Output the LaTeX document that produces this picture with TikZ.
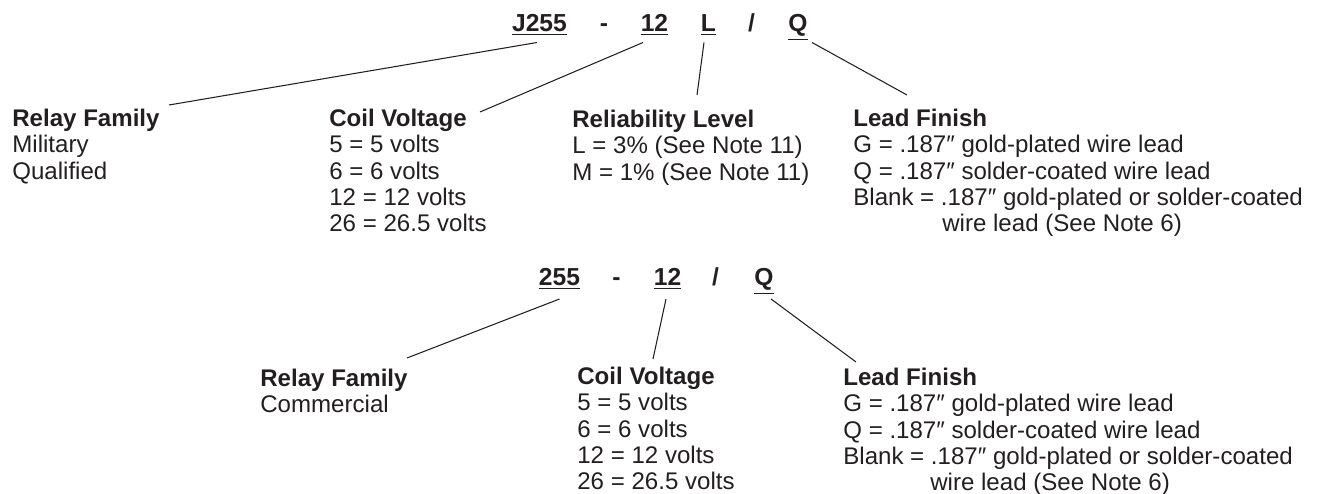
\documentclass[tikz,border=0pt]{standalone}
\usepackage{fontspec}
\setmainfont{Liberation Sans}
\usepackage{xcolor}
\usepackage{tikz}
\usetikzlibrary{positioning}
\definecolor{ink}{HTML}{231F20}
\tikzstyle{partcode} = [inner sep=0pt, anchor=base, text=ink, font=\fontsize{14}{16}\selectfont\bfseries]
\tikzstyle{legend} = [inner sep=0pt, anchor=north west, align=left, text=ink, font=\fontsize{13.7}{15}\selectfont]
\tikzstyle{leader} = [draw=ink, line width=0.6pt]

\begin{document}
\begin{tikzpicture}
        \useasboundingbox (0,0) rectangle (26.34,-9.88);

        \node (j255) [partcode] at (10.79,-0.64) {\underline{J255}};
        \node (dashmil) [partcode] at (12.08,-0.64) {-};
        \node (coilmil) [partcode] at (13.09,-0.64) {\underline{12}};
        \node (relmil) [partcode] at (14.17,-0.64) {\underline{L}};
        \node (slashmil) [partcode] at (15.03,-0.64) {/};
        \node (leadmil) [partcode] at (15.96,-0.64) {\underline{Q}};

        \node (rfmil) [legend] at (0.24,-2.15) {\textbf{Relay Family}\strut\\Military\\Qualified};
        \node (cvmil) [legend] at (6.58,-2.15) {\textbf{Coil Voltage}\strut\\5 = 5 volts\\6 = 6 volts\\12 = 12 volts\\26 = 26.5 volts};
        \node (rlmil) [legend] at (11.44,-2.17) {\textbf{Reliability Level}\strut\\L = 3\% (See Note 11)\\M = 1\% (See Note 11)};
        \node (lfmil) [legend] at (17.06,-2.15) {\textbf{Lead Finish}\strut\\G = .187″ gold-plated wire lead\\Q = .187″ solder-coated wire lead\\Blank = .187″ gold-plated or solder-coated\\\hspace*{1.78cm}wire lead (See Note 6)};

        \node (c255) [partcode] at (11.19,-5.72) {\underline{255}};
        \node (dashcom) [partcode] at (12.33,-5.72) {-};
        \node (coilcom) [partcode] at (13.35,-5.72) {\underline{12}};
        \node (slashcom) [partcode] at (14.31,-5.72) {/};
        \node (leadcom) [partcode] at (15.28,-5.72) {\underline{Q}};

        \node (rfcom) [legend] at (5.20,-7.35) {\textbf{Relay Family}\strut\\Commercial};
        \node (cvcom) [legend] at (11.54,-7.31) {\textbf{Coil Voltage}\strut\\5 = 5 volts\\6 = 6 volts\\12 = 12 volts\\26 = 26.5 volts};
        \node (lfcom) [legend] at (16.86,-7.33) {\textbf{Lead Finish}\strut\\G = .187″ gold-plated wire lead\\Q = .187″ solder-coated wire lead\\Blank = .187″ gold-plated or solder-coated\\\hspace*{1.74cm}wire lead (See Note 6)};

        \draw [leader] ([xshift=-0.05cm,yshift=-0.21cm]j255.base) -- ([xshift=3.14cm,yshift=0.05cm]rfmil.north west);
        \draw [leader] ([xshift=-0.23cm,yshift=-0.21cm]coilmil.base) -- ([xshift=3.02cm,yshift=-0.09cm]cvmil.north west);
        \draw [leader] ([xshift=-0.09cm,yshift=-0.21cm]relmil.base) -- ([xshift=2.50cm,yshift=0.27cm]rlmil.north west);
        \draw [leader] ([xshift=0.28cm,yshift=-0.21cm]leadmil.base) -- ([xshift=1.08cm,yshift=0.25cm]lfmil.north west);

        \draw [leader] ([yshift=-0.26cm]c255.base) -- ([xshift=2.94cm,yshift=0.19cm]rfcom.north west);
        \draw [leader] ([xshift=-0.03cm,yshift=-0.26cm]coilcom.base) -- ([xshift=1.52cm,yshift=0.13cm]cvcom.north west);
        \draw [leader] ([xshift=0.14cm,yshift=-0.26cm]leadcom.base) -- ([xshift=0.26cm,yshift=0.09cm]lfcom.north west);

        \end{tikzpicture}
\end{document}
